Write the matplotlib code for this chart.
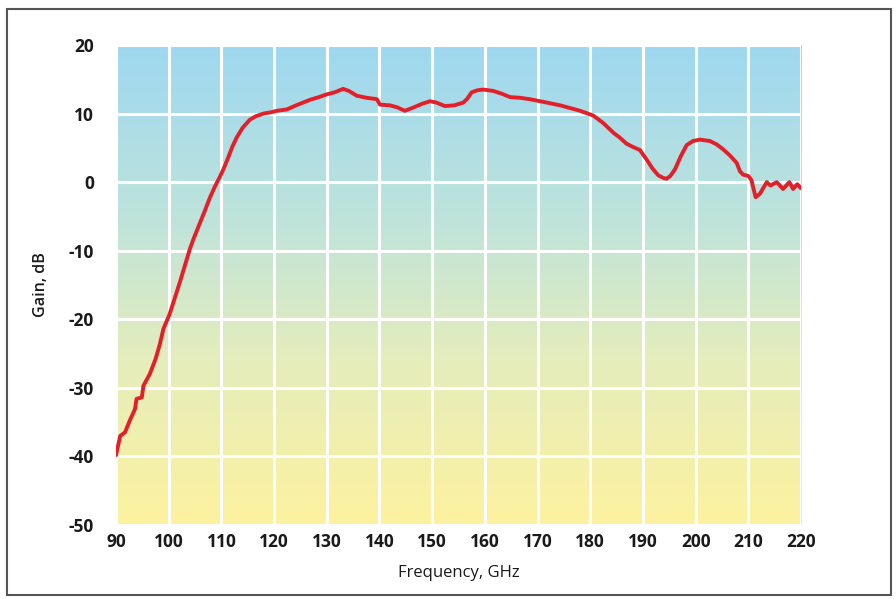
import numpy as np
import matplotlib.pyplot as plt
from matplotlib.colors import LinearSegmentedColormap
from matplotlib.patches import Rectangle

plt.rcParams['axes.unicode_minus'] = False

# Gain curve
freq_ghz = [90.0, 90.8, 91.7, 92.6, 93.6, 93.9, 94.9, 95.2, 96.4, 97.5, 98.3, 99.0,
            100.2, 101.2, 102.2, 103.1, 104.0, 104.7, 105.8, 106.8, 107.8, 108.8,
            109.6, 110.4, 111.3, 112.1, 112.9, 114.0, 115.4, 116.5, 118.0, 119.5,
            120.5, 122.4, 124.5, 126.8, 128.5, 130.0, 131.5, 133.1, 134.2, 135.7,
            137.6, 139.5, 140.1, 142.0, 143.4, 144.8, 146.5, 148.0, 149.6, 150.8,
            152.4, 154.2, 155.9, 156.6, 157.5, 158.6, 159.7, 161.6, 163.2, 164.8,
            166.7, 168.5, 170.5, 172.4, 174.3, 176.2, 178.1, 180.6, 182.5, 184.4,
            185.6, 186.9, 188.2, 189.4, 190.7, 191.8, 192.9, 193.9, 194.5, 195.2,
            196.1, 197.2, 198.3, 199.5, 200.8, 202.7, 204.0, 205.2, 206.5, 207.8,
            208.4, 209.0, 210.0, 210.6, 211.0, 211.4, 212.2, 213.5, 214.2, 215.4,
            216.6, 217.8, 218.5, 219.3, 220.0]
gain_db = [-39.8, -37.0, -36.5, -34.8, -33.1, -31.6, -31.4, -29.7, -28.0, -25.8, -23.7, -21.4,
           -19.2, -16.8, -14.4, -12.1, -9.8, -8.3, -6.2, -4.3, -2.3, -0.6,
           0.6, 1.9, 3.6, 5.2, 6.5, 7.9, 9.1, 9.6, 10.0, 10.2,
           10.4, 10.6, 11.3, 12.0, 12.4, 12.8, 13.1, 13.6, 13.3, 12.6,
           12.3, 12.1, 11.3, 11.2, 10.9, 10.4, 10.9, 11.4, 11.8, 11.6,
           11.1, 11.2, 11.6, 12.1, 13.1, 13.4, 13.5, 13.3, 12.9, 12.4,
           12.3, 12.1, 11.8, 11.5, 11.2, 10.8, 10.4, 9.7, 8.6, 7.2,
           6.5, 5.6, 5.1, 4.7, 3.3, 2.0, 1.0, 0.6, 0.5, 0.9,
           1.9, 3.8, 5.4, 6.0, 6.2, 6.0, 5.5, 4.8, 3.9, 2.8,
           1.6, 1.1, 0.9, 0.3, -1.0, -2.2, -1.7, 0.0, -0.5, 0.0,
           -1.0, 0.0, -1.0, -0.3, -0.9]

x_ticks = list(range(90, 221, 10))
y_ticks = list(range(-50, 21, 10))

fonts = ['Open Sans', 'DejaVu Sans']

fig = plt.figure(figsize=(8.96, 5.99), dpi=100)
fig.patch.set_facecolor('white')

# outer frame
fig.patches.append(Rectangle((7 / 896, 4 / 599), 884 / 896, 586 / 599,
                             transform=fig.transFigure, fill=False,
                             edgecolor='#555555', linewidth=1.5))

ax = fig.add_axes([116 / 896, 1 - 525 / 599, 685 / 896, 480 / 599])

# vertical gradient background: blue at top, yellow at bottom
cmap = LinearSegmentedColormap.from_list(
    'bg', [(0.0, '#fdf2a0'), (0.35, '#e4edbc'), (0.65, '#bde3dc'), (1.0, '#9ed8f0')])
grad = np.linspace(0, 1, 256).reshape(-1, 1)
ax.imshow(grad, aspect='auto', cmap=cmap, origin='lower',
          extent=[90, 220, -50, 20], zorder=0)

ax.set_xlim(90, 220)
ax.set_ylim(-50, 20)
ax.set_xticks(x_ticks)
ax.set_yticks(y_ticks)
ax.grid(True, color='white', linewidth=2.2, zorder=1)
ax.set_axisbelow(False)

ax.plot(freq_ghz, gain_db, color='#e3202a', linewidth=2.8, zorder=3,
        solid_joinstyle='round', solid_capstyle='round')

for s in ax.spines.values():
    s.set_visible(False)
ax.tick_params(length=0, pad=6)
for lab in ax.get_xticklabels() + ax.get_yticklabels():
    lab.set_fontfamily(fonts)
    lab.set_fontweight('bold')
    lab.set_fontsize(12.5)
    lab.set_color('#1a1a1a')
ax.tick_params(axis='y', pad=16)

ax.set_xlabel('Frequency, GHz', fontfamily=fonts, fontsize=12, color='#1a1a1a', labelpad=10)
ax.set_ylabel('Gain, dB', fontfamily=fonts, fontsize=11.5, fontweight='semibold',
              color='#1a1a1a', labelpad=14)

fig.savefig('out.png', dpi=100)
